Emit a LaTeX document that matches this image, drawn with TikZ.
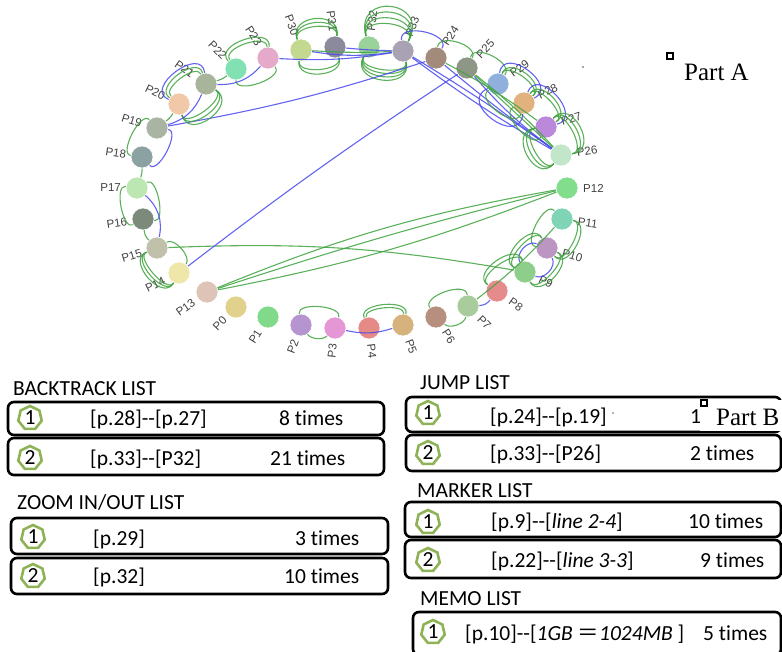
\documentclass[tikz,border=0pt]{standalone}
\usepackage{fontspec}
\setmainfont[Ligatures={NoCommon}]{Carlito}
\newfontfamily\lblfont{Liberation Sans}
\newfontfamily\serfont{Liberation Serif}
\newfontfamily\cjkfont{Noto Sans CJK SC}
\usetikzlibrary{calc,shapes.geometric}
\definecolor{gedgec}{HTML}{3EA33E}
\definecolor{bedgec}{HTML}{4848EE}
\definecolor{badge}{HTML}{8DB356}

\begin{document}
\begin{tikzpicture}[x=1pt,y=-1pt,
  pnode/.style={circle,minimum size=22pt,inner sep=0pt,fill=#1,draw=white,line width=0.6pt},
  plabel/.style={font=\lblfont\fontsize{11.5}{12}\selectfont,text=black!75,inner sep=0pt},
  ge/.style={draw=gedgec,line width=1.1pt,opacity=0.85},
  be/.style={draw=bedgec,line width=1.1pt,opacity=0.85},
  om/.style 2 args={out=#1,in={180-(#1)},relative,looseness=#2},
  listbox/.style={draw=black,line width=2.6pt,rounded corners=6pt},
  badgenode/.style={regular polygon,regular polygon sides=7,minimum size=24pt,inner sep=0pt,draw=badge,line width=2.6pt},
  txt/.style={font=\fontsize{21.5}{24}\selectfont,anchor=base west,inner sep=0pt},
  ttl/.style={font=\fontsize{21.5}{24}\selectfont,anchor=base west,inner sep=0pt},
  partlbl/.style={font=\serfont\fontsize{25}{27}\selectfont,anchor=base west,inner sep=0pt},
  partbox/.style={draw=black,line width=1.4pt,minimum size=6pt,inner sep=0pt},
]
\useasboundingbox (0,0) rectangle (782,651);

% ---------- pages on the ellipse ----------
\foreach \n/\x/\y/\c in {
  P30/301/50/C3D98F, P31/335/47/8A8A9C, P32/369/47/99D39A, P33/403/51/A9A2B2,
  P24/436/58/A38B7B, P25/467/68/8E9686, P29/498/84/8FB0DC, P28/524/103/E2B27E,
  P27/546/127/BB88DC, P26/561/155/C2E6C9, P12/567/188/82DE8D, P11/562/219/7FD4B6,
  P10/547/248/BC96C2, P9/525/272/8ECE8B, P8/497/291/E68B8C, P7/468/306/A9CC9C,
  P6/436/317/B78F7F, P5/403/325/D6B27C, P4/369/328/E68A88, P3/335/328/E596D4,
  P2/301/325/B694CF, P1/268/317/80DA8A, P0/236/307/E1D18C, P13/207/292/DDC4B6,
  P14/179/273/EFE6A9, P15/157/248/C0C0AB, P16/143/219/7C8A7C, P17/137/188/BDE7B2,
  P18/142/157/8BA1A2, P19/157/128/A9B5A2, P20/179/104/F1C9A9, P21/206/84/A9B59B,
  P22/236/69/82E1B2, P23/268/58/E5A9C9} {
  \definecolor{col\n}{HTML}{\c}
  \node[pnode=col\n] (\n) at (\x,\y) {};
  \pgfmathsetmacro\ang{atan2(188-\y,\x-352)}
  \pgfmathtruncatemacro\rside{abs(\ang)<90 ? 1 : 0}
  \ifnum\rside=1
    \node[plabel,anchor=west,rotate=\ang] (L\n) at ($(\n.center)+(\ang:16pt)$) {\n};
  \else
    \pgfmathsetmacro\rot{\ang-180}
    \node[plabel,anchor=east,rotate=\rot] (L\n) at ($(\n.center)+(\ang:16pt)$) {\n};
  \fi
}

% ---------- transitions between neighbouring pages ----------
% P30 - P31
\foreach \l in {1.0,1.35,1.7} \draw[ge] (P30) to[om={105}{\l}] (P31);
\foreach \l in {0.9,1.3} \draw[ge] (P30) to[om={-105}{\l}] (P31);
% P32 - P33
\foreach \l in {1.3,1.8,2.3,2.8} \draw[ge] (P32) to[om={112}{\l}] (P33);
\foreach \l in {0.9,1.2,1.5,1.8} \draw[ge] (P32) to[om={-112}{\l}] (P33);
\draw[ge] (P30) to[bend right=3] (P33);
\draw[be] (P31) to[bend right=2] (P33);
\draw[be] (P30) to[bend right=8] (P33);
\draw[be] (P23) to[bend right=6] (P33);
\draw[be] (P33) to[om={110}{1.1}] (P24);
\draw[ge] (P24) to[om={100}{1.0}] (P25);
\draw[ge] (P25) to[om={100}{1.0}] (P29);
% chords down to P26
\draw[be] (P33) to[bend left=2] (P26);
\draw[be] (P33) to[bend right=3] (P26);
\draw[be] (P24) to[bend right=2] (P26);
\draw[be] (P25) to[bend right=6] (P26);
\draw[ge] (P25) to[bend left=4] (P26);
\draw[ge] (P25) to (P26);
\draw[ge] (P24) to[bend left=4] (P27);
% P29 - P28 - P27 - P26
\foreach \l in {0.9,1.3} \draw[ge] (P29) to[om={105}{\l}] (P28);
\draw[be] (P29) to[om={118}{1.7}] (P28);
\draw[be] (P29) to[om={-120}{2.0}] (P28);
\draw[ge] (P29) to[om={-110}{1.1}] (P28);
\foreach \l in {0.9,1.3} \draw[ge] (P28) to[om={105}{\l}] (P27);
\draw[be] (P28) to[om={118}{1.7}] (P27);
\draw[ge] (P28) to[om={-110}{1.0}] (P27);
\foreach \l in {1.0,1.4,1.8} \draw[ge] (P27) to[om={112}{\l}] (P26);
\foreach \l in {1.0,1.4,1.8} \draw[ge] (P27) to[om={-112}{\l}] (P26);
% right side
\foreach \l in {0.9,1.3} \draw[ge] (P11) to[om={110}{\l}] (P10);
\draw[ge] (P11) to[om={-110}{0.9}] (P10);
\foreach \l in {0.9,1.3} \draw[ge] (P10) to[om={110}{\l}] (P9);
\foreach \l in {0.9,1.3} \draw[ge] (P10) to[om={-110}{\l}] (P9);
\draw[be] (P10) to[om={-70}{1.0}] (P9);
\draw[be] (P10) to[om={70}{1.0}] (P9);
\foreach \l in {0.9,1.3} \draw[ge] (P9) to[om={-112}{\l}] (P8);
\draw[ge] (P11) to[bend left=5] (P7);
\draw[be] (P8) to[bend left=25] (P7);
% bottom
\draw[ge] (P7) to[om={-105}{0.9}] (P6);
\draw[ge] (P7) to[om={60}{0.8}] (P6);
\draw[ge] (P5) to[om={-100}{0.7}] (P4);
\draw[ge] (P5) to[om={-110}{1.0}] (P4);
\draw[be] (P5) to[bend left=15] (P3);
\draw[ge] (P3) to[om={-105}{0.8}] (P2);
\draw[ge] (P3) to[om={50}{0.8}] (P2);
% long chords
\draw[ge] (P13) to[bend left=6] (P12);
\draw[ge] (P13) to[bend left=2] (P12);
\draw[ge] (P13) to[bend right=5] (P12);
\draw[ge] (P15) to[bend left=6] (P9);
\draw[be] (P14) to[bend left=2] (P25);
\draw[be] (P19) to[bend right=4] (P24);
% left side
\foreach \l in {0.8,1.1,1.4} \draw[ge] (P14) to[om={110}{\l}] (P15);
\draw[ge] (P14) to[om={-80}{0.8}] (P15);
\draw[ge] (P15) to[bend left=20] (P16);
\draw[ge] (P16) to[om={110}{0.8}] (P17);
\draw[ge] (P16) to[om={-110}{0.8}] (P17);
\draw[be] (P15) to[bend right=30] (P17);
\draw[ge] (P17) to[bend right=10] (P18);
\draw[ge] (P18) to[om={110}{0.8}] (P19);
\draw[be] (P18) to[om={-110}{0.8}] (P19);
\draw[ge] (P19) to[bend right=10] (P20);
\draw[ge] (P20) to[om={100}{0.8}] (P21);
\draw[ge] (P20) to[om={110}{1.2}] (P21);
\draw[be] (P20) to[om={120}{1.6}] (P21);
\foreach \l in {0.9,1.3,1.7} \draw[ge] (P20) to[om={-112}{\l}] (P21);
\draw[be] (P19) to[bend right=25] (P21);
\draw[ge] (P21) to[bend right=10] (P22);
\draw[ge] (P22) to[om={105}{0.9}] (P23);
\draw[ge] (P22) to[om={115}{1.3}] (P23);
\draw[ge] (P22) to[om={-110}{0.9}] (P23);
\draw[be] (P21) to[bend right=25] (P23);

\fill[black!70] (583,67) circle (0.9pt);

% ---------- Part A marker ----------
\node[partbox] (sqA) at (670,56) {};
\node[partlbl] (partA) at (684,80) {Part A};

% ---------- BACKTRACK LIST ----------
\node[ttl] (tBack) at (13,395) {BACKTRACK LIST};
\draw[listbox] (8,402) rectangle (384,435);
\draw[listbox] (8,438) rectangle (384,475);
\node[badgenode] (b1) at (30,418) {};
\node[txt,anchor=center] (b1n) at (30,418) {1};
\node[txt] (b1a) at (90,425) {[p.28]-{}-[p.27]};
\node[txt] (b1b) at (279,425) {8 times};
\node[badgenode] (b2) at (30,458) {};
\node[txt,anchor=center] (b2n) at (30,458) {2};
\node[txt] (b2a) at (90,465) {[p.33]-{}-[P32]};
\node[txt] (b2b) at (270,465) {21 times};

% ---------- ZOOM IN/OUT LIST ----------
\node[ttl] (tZoom) at (17,509) {ZOOM IN/OUT LIST};
\draw[listbox] (11,518) rectangle (388,554);
\draw[listbox] (11,558) rectangle (388,594);
\node[badgenode] (z1) at (33,537) {};
\node[txt,anchor=center] (z1n) at (33,537) {1};
\node[txt] (z1a) at (93,545) {[p.29]};
\node[txt] (z1b) at (295,545) {3 times};
\node[badgenode] (z2) at (33,576) {};
\node[txt,anchor=center] (z2n) at (33,576) {2};
\node[txt] (z2a) at (93,583) {[p.32]};
\node[txt] (z2b) at (284,583) {10 times};

% ---------- JUMP LIST ----------
\node[ttl] (tJump) at (420,389) {JUMP LIST};
\draw[listbox] (406,397) rectangle (781,432);
\draw[listbox] (406,435) rectangle (781,471);
\node[badgenode] (j1) at (428,413) {};
\node[txt,anchor=center] (j1n) at (428,413) {1};
\node[txt] (j1a) at (490,423) {[p.24]-{}-[p.19]};
\fill[black!60] (613,413) circle (0.8pt);
\node[txt] (j1b) at (690,423) {1};
\node[badgenode] (j2) at (428,453) {};
\node[txt,anchor=center] (j2n) at (428,453) {2};
\node[txt] (j2a) at (490,460) {[p.33]-{}-[P26]};
\node[txt] (j2b) at (690,460) {2 times};
% Part B marker over the first row
\fill[white] (700,400) rectangle (782,431);
\node[partbox] (sqB) at (704,403) {};
\node[partlbl] (partB) at (716,425) {Part B};

% ---------- MARKER LIST ----------
\node[ttl] (tMark) at (417,497) {MARKER LIST};
\draw[listbox] (405,502) rectangle (781,537);
\draw[listbox] (405,540) rectangle (781,578);
\node[badgenode] (m1) at (428,522) {};
\node[txt,anchor=center] (m1n) at (428,522) {1};
\node[txt] (m1a) at (491,528) {[p.9]-{}-[\textit{line 2-4}]};
\node[txt] (m1b) at (688,528) {10 times};
\node[badgenode] (m2) at (428,560) {};
\node[txt,anchor=center] (m2n) at (428,560) {2};
\node[txt] (m2a) at (491,567) {[p.22]-{}-[\textit{line 3-3}]};
\node[txt] (m2b) at (700,567) {9 times};

% ---------- MEMO LIST ----------
\node[ttl] (tMemo) at (420,605) {MEMO LIST};
\draw[listbox] (413,612) rectangle (781,655);
\node[badgenode] (e1) at (433,632) {};
\node[txt,anchor=center] (e1n) at (433,632) {1};
\node[txt] (e1a) at (465,640) {[p.10]-{}-[\textit{1GB }{\cjkfont ＝}\textit{1024MB} ]};
\node[txt] (e1b) at (703,640) {5 times};
\end{tikzpicture}
\end{document}
